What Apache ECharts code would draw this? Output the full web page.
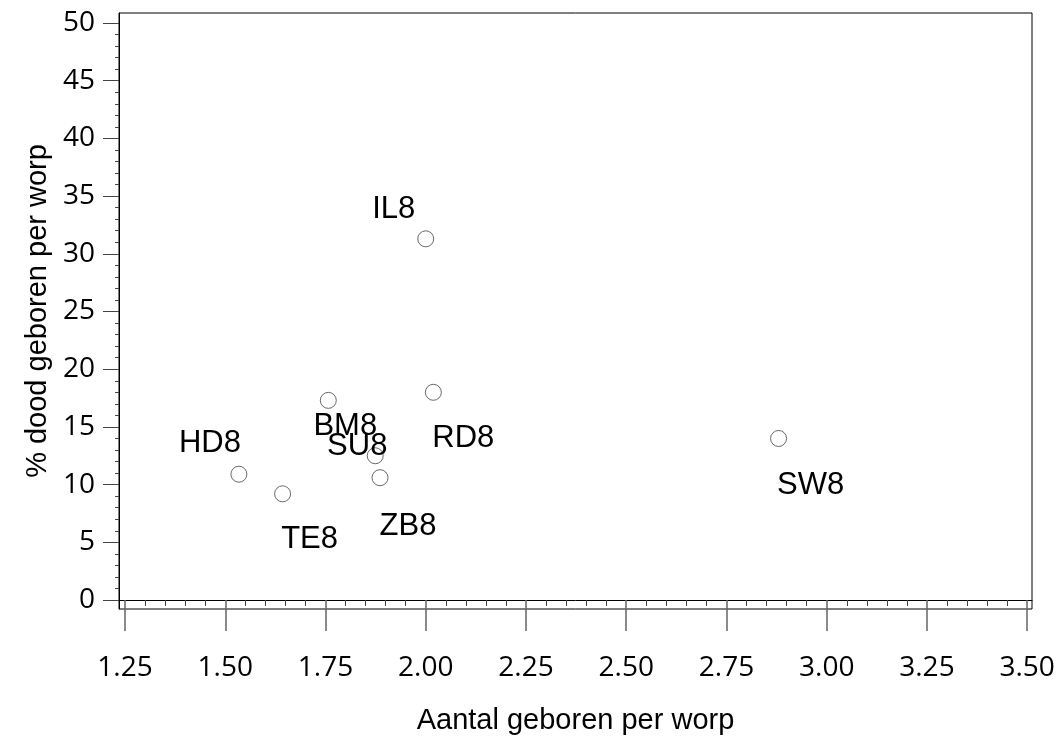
<!DOCTYPE html>
<html>
<head>
<meta charset="utf-8">
<script src="https://cdn.jsdelivr.net/npm/echarts@6/dist/echarts.min.js"></script>
<style>
  html, body { margin: 0; padding: 0; background: #fff; }
  #chart { width: 1063px; height: 740px; }
</style>
</head>
<body>
<div id="chart"></div>
<script>
// groepen en waarden per worp
var names = ['IL8', 'HD8', 'TE8', 'BM8', 'SU8', 'ZB8', 'RD8', 'SW8'];
var geboren = [2.00, 1.534, 1.643, 1.757, 1.874, 1.886, 2.019, 2.880];
var dood = [31.3, 10.9, 9.2, 17.3, 12.5, 10.6, 18.0, 14.0];

var xTicks = [1.25, 1.50, 1.75, 2.00, 2.25, 2.50, 2.75, 3.00, 3.25, 3.50];
var yTicks = [0, 5, 10, 15, 20, 25, 30, 35, 40, 45, 50];

// label offsets (px) relative to the marker
var labelOffset = {
    IL8: [-32, -29], HD8: [-29, -31], TE8: [27, 46], BM8: [17, 26],
    SU8: [-18, -9], ZB8: [28, 49], RD8: [30, 46], SW8: [32, 47]
};

var xMinor = [], yMinor = [];
for (var i = 0; i < xTicks.length - 1; i++) {
    for (var k = 1; k < 5; k++) xMinor.push(+(xTicks[i] + k * 0.05).toFixed(2));
}
for (var j = 0; j < yTicks.length - 1; j++) {
    for (var m = 1; m < 5; m++) yMinor.push(yTicks[j] + m);
}

var chart = echarts.init(document.getElementById('chart'));

var points = names.map(function (n, idx) {
    return {
        name: n,
        value: [geboren[idx], dood[idx]],
        label: { offset: labelOffset[n] }
    };
});

var tickFont = { fontFamily: 'Open Sans', fontSize: 28, color: '#000' };
var titleFont = { fontFamily: 'Liberation Sans', fontSize: 29, color: '#000' };

var option = {
    animation: false,
    grid: {
        left: 119, right: 31, top: 13, bottom: 131,
        show: true, borderColor: '#000', borderWidth: 1, backgroundColor: '#fff'
    },
    xAxis: [{
        type: 'value',
        min: 1.235, max: 3.512,
        name: 'Aantal geboren per worp',
        nameLocation: 'middle',
        nameGap: 97,
        nameTextStyle: titleFont,
        axisLine: { show: true, lineStyle: { color: '#000' } },
        axisTick: { show: true, customValues: xTicks, length: 31, lineStyle: { color: '#666', width: 1.5 } },
        axisLabel: Object.assign({ customValues: xTicks, margin: 45, formatter: function (v) { return v.toFixed(2); } }, tickFont),
        splitLine: { show: false }
    }, {
        type: 'value',
        min: 1.235, max: 3.512,
        position: 'bottom',
        axisLine: { show: false },
        axisTick: { show: true, customValues: xMinor, length: 6, lineStyle: { color: '#444' } },
        axisLabel: { show: false },
        splitLine: { show: false }
    }],
    yAxis: [{
        type: 'value',
        min: -0.78, max: 50.87,
        name: '% dood geboren per worp',
        nameLocation: 'middle',
        nameGap: 67,
        nameTextStyle: titleFont,
        axisLine: { show: true, lineStyle: { color: '#000' } },
        axisTick: { show: true, customValues: yTicks, length: 16, lineStyle: { color: '#444' } },
        axisLabel: Object.assign({ customValues: yTicks, margin: 24 }, tickFont),
        splitLine: { show: false }
    }, {
        type: 'value',
        min: -0.78, max: 50.87,
        position: 'left',
        axisLine: { show: false },
        axisTick: { show: true, customValues: yMinor, length: 4, lineStyle: { color: '#444' } },
        axisLabel: { show: false },
        splitLine: { show: false }
    }],
    series: [{
        type: 'scatter',
        xAxisIndex: 0,
        yAxisIndex: 0,
        symbol: 'circle',
        symbolSize: 16,
        itemStyle: { color: '#fff', borderColor: '#444', borderWidth: 1 },
        label: {
            show: true,
            position: 'inside',
            formatter: '{b}',
            fontFamily: 'Liberation Sans',
            fontSize: 31,
            color: '#000',
            opacity: 1,
            textBorderColor: 'transparent',
            textBorderWidth: 0
        },
        data: points
    }]
};

chart.setOption(option);
</script>
</body>
</html>
